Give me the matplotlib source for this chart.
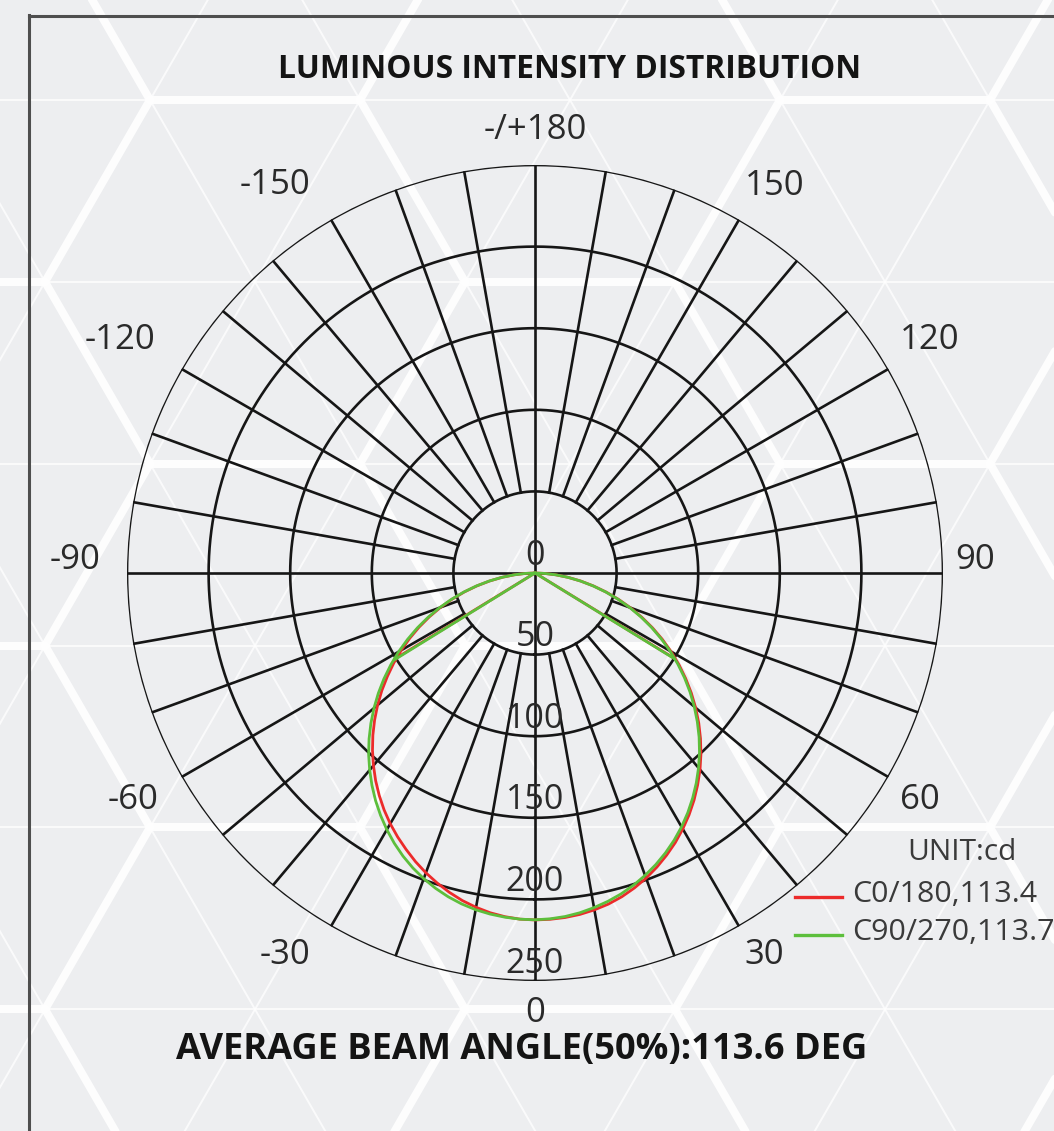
import numpy as np
import matplotlib
matplotlib.use("Agg")
import matplotlib.pyplot as plt
from matplotlib.lines import Line2D

# ---------------- data (cd), gamma angle from nadir ----------------
gamma_deg = [0, 2.5, 5, 7.5, 10, 12.5, 15, 17.5, 20, 22.5, 25, 27.5, 30, 32.5, 35, 37.5,
             40, 42.5, 45, 47.5, 50, 52.5, 55, 57.5, 60, 62.5, 65, 67.5, 70, 72.5, 75,
             77.5, 80, 82.5, 85, 87.5, 90]
c0_cd = [212.6, 212.4, 211.9, 211.0, 209.6, 207.8, 205.4, 202.4, 199.0, 195.1, 190.8, 186.2,
         181.1, 175.7, 169.9, 163.7, 157.3, 150.5, 143.4, 136.1, 128.5, 120.7, 112.7, 104.6,
         96.3, 87.9, 79.4, 70.8, 62.2, 53.6, 45.1, 36.7, 28.5, 20.5, 12.9, 5.8, 0]
c180_cd = [212.6, 212.3, 211.4, 210.0, 208.0, 205.6, 202.6, 199.2, 195.5, 191.4, 186.9, 182.3,
           177.4, 172.1, 166.4, 160.4, 154.0, 147.4, 140.5, 133.3, 125.9, 118.3, 110.4, 102.6,
           94.6, 86.5, 78.3, 70.0, 61.6, 53.2, 44.8, 36.5, 28.3, 20.4, 12.8, 5.8, 0]
c90_cd = [212.4, 212.1, 211.3, 210.0, 208.2, 206.1, 203.6, 200.6, 197.2, 193.4, 189.2, 184.6,
          179.6, 174.2, 168.4, 162.3, 155.9, 149.2, 142.2, 134.9, 127.4, 119.7, 111.8, 103.7,
          95.5, 87.1, 78.7, 70.2, 61.7, 53.2, 44.8, 36.4, 28.3, 20.4, 12.8, 5.8, 0]
c270_cd = [212.5, 212.3, 211.7, 210.8, 209.5, 207.7, 205.4, 202.6, 199.3, 195.6, 191.4, 186.7,
           181.6, 176.1, 170.3, 164.1, 157.6, 150.9, 143.8, 136.4, 128.8, 121.0, 113.0, 104.8,
           96.5, 88.0, 79.5, 70.9, 62.3, 53.7, 45.2, 36.8, 28.6, 20.6, 12.9, 5.8, 0]

# beam-edge guide lines (angle deg, cd): left edge, centre, right edge
red_beam_deg = [-58.5, 0, 58.5]
red_beam_cd = [100.5, 0, 100.0]
green_beam_deg = [-58.3, 0, 58.4]
green_beam_cd = [101.0, 0, 99.5]

ring_values = [50, 100, 150, 200, 250]
angle_labels = ["0", "30", "60", "90", "120", "150", "-/+180", "-150", "-120", "-90", "-60", "-30"]
angle_label_theta = [0, 31, 59.5, 91.7, 120.5, 148.3, 180, -146.2, -119.3, -91.6, -60.5, -33.2]
angle_label_r = [269.6, 273, 273.9, 269.6, 281, 279, 271.4, 286, 291.7, 282, 283, 279.7]

legend_labels = ["C0/180,113.4", "C90/270,113.7"]
title = "LUMINOUS INTENSITY DISTRIBUTION"
footer = "AVERAGE BEAM ANGLE(50%):113.6 DEG"

RED = "#ec2b2b"
GREEN = "#5dbf3c"
GRID = "#161616"
BG = "#edeef0"

W, H = 1054, 1131
plt.rcParams["font.family"] = ["Open Sans", "DejaVu Sans"]

fig = plt.figure(figsize=(W / 100, H / 100), dpi=100)
fig.patch.set_facecolor(BG)

def fx(x):
    return x / W

def fy(y):
    return 1 - y / H

# ---------------- background hex pattern ----------------
bg = fig.add_axes([0, 0, 1, 1], zorder=-5)
bg.set_xlim(0, W)
bg.set_ylim(H, 0)
bg.axis("off")
a = 210.0
h = a * np.sqrt(3) / 2
ox, oy = 150.0, 100.0

def pt(i, j):
    return ox + i * a + j * a / 2, oy + j * h

def is_center(i, j):
    return (i - j) % 3 == 2

for j in range(-2, 9):
    for i in range(-8, 10):
        x0, y0 = pt(i, j)
        for di, dj in [(1, 0), (0, 1), (-1, 1)]:
            x1, y1 = pt(i + di, j + dj)
            if max(x0, x1) < -50 or min(x0, x1) > W + 50:
                continue
            thin = is_center(i, j) or is_center(i + di, j + dj)
            bg.plot([x0, x1], [y0, y1], color="white",
                    lw=1.4 if thin else 5.8, alpha=0.75 if thin else 0.9,
                    solid_capstyle="round")

# border
fig.add_artist(Line2D([fx(28.5), fx(28.5)], [fy(15), fy(H + 5)], color="#4e4e4e", lw=2.2))
fig.add_artist(Line2D([fx(28.5), fx(W + 5)], [fy(15.5), fy(15.5)], color="#4e4e4e", lw=2.2))

# ---------------- polar chart ----------------
cx, cy, R = 535, 573, 408
ax = fig.add_axes([fx(cx - R), fy(cy + R), 2 * R / W, 2 * R / H], projection="polar")
ax.set_theta_zero_location("S")
ax.set_theta_direction(1)
ax.set_ylim(0, 250)
ax.grid(False)
ax.set_xticks([])
ax.set_yticks([])
ax.spines["polar"].set_visible(False)
ax.patch.set_alpha(0)

circ = np.linspace(0, 2 * np.pi, 721)
for rv in ring_values:
    ax.plot(circ, np.full_like(circ, rv), color=GRID, lw=1.9, zorder=2)
for d in range(0, 360, 10):
    t = np.deg2rad(d)
    r0 = 0 if d % 90 == 0 else ring_values[0]
    ax.plot([t, t], [r0, ring_values[-1]], color=GRID, lw=1.9, zorder=2)

g = np.array(gamma_deg, dtype=float)

def full_curve(left, right):
    th = np.deg2rad(np.concatenate([-g[::-1], g[1:]]))
    rr = np.concatenate([np.array(left)[::-1], np.array(right)[1:]])
    return th, rr

th, rr = full_curve(c180_cd, c0_cd)
ax.plot(th, rr, color=RED, lw=2.0, zorder=4, solid_joinstyle="round")
ax.plot(np.deg2rad(red_beam_deg), red_beam_cd, color=RED, lw=2.0, zorder=4)
th, rr = full_curve(c270_cd, c90_cd)
ax.plot(th, rr, color=GREEN, lw=2.0, zorder=5, solid_joinstyle="round")
ax.plot(np.deg2rad(green_beam_deg), green_beam_cd, color=GREEN, lw=2.0, zorder=5)

# angle labels
for lab, t, r in zip(angle_labels, angle_label_theta, angle_label_r):
    ax.text(np.deg2rad(t), r, lab, ha="center", va="center", fontsize=25,
            color="#2a2a2a", clip_on=False)

# radial labels
for rv in [0] + ring_values:
    ax.annotate(str(rv), xy=(0, rv), xytext=(0, 12.5), textcoords="offset points",
                ha="center", va="center", fontsize=24.5, color="#2a2a2a",
                annotation_clip=False, zorder=6)

# title / footer
fig.text(fx(570), fy(69), title, ha="center", va="center", fontsize=22.9,
         fontweight="bold", color="#141414")
fig.text(fx(522), fy(1050), footer, ha="center", va="center", fontsize=26.1,
         fontweight="bold", color="#141414")

# legend
fig.text(fx(962), fy(853), "UNIT:cd", ha="center", va="center", fontsize=21.5, color="#3a3a3a")
for lab, col, y in zip(legend_labels, [RED, GREEN], [897, 935]):
    fig.add_artist(Line2D([fx(795), fx(842)], [fy(y), fy(y)], color=col, lw=2.4))
    fig.text(fx(852), fy(y - 2), lab, ha="left", va="center", fontsize=21.9, color="#3a3a3a")

fig.savefig("out.png", dpi=100, facecolor=BG)
